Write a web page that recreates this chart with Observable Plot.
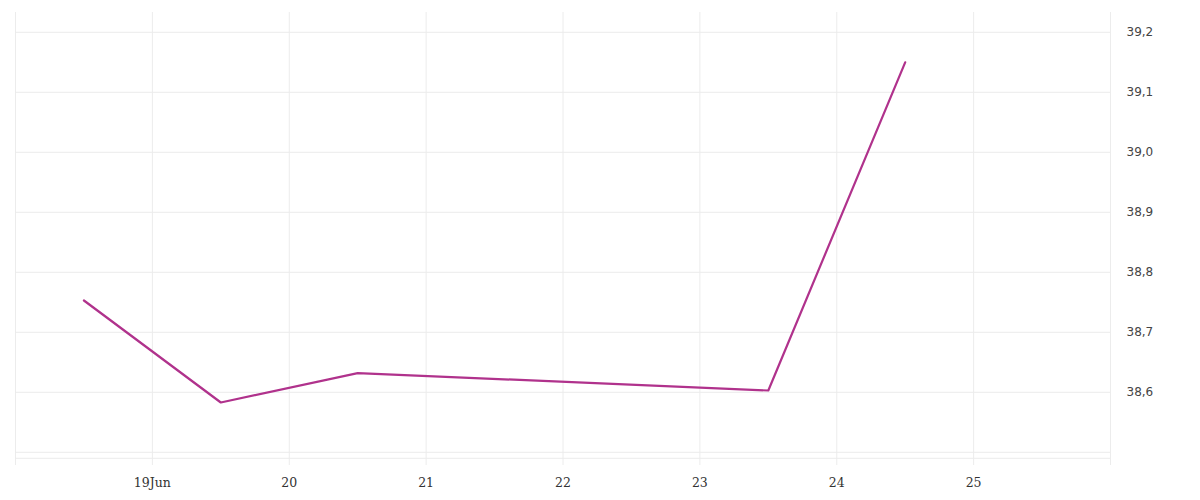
<!DOCTYPE html>
<html>
<head>
<meta charset="utf-8">
<script src="https://cdn.jsdelivr.net/npm/d3@7"></script>
<script src="https://cdn.jsdelivr.net/npm/@observablehq/plot@0.6"></script>
<style>
  html, body { margin: 0; padding: 0; background: #fff; }
</style>
</head>
<body>
<div id="chart"></div>
<script>
const dates = ["2023-06-18T12:00Z", "2023-06-19T12:00Z", "2023-06-20T12:00Z", "2023-06-23T12:00Z", "2023-06-24T12:00Z"];
const values = [38.753, 38.583, 38.632, 38.603, 39.15];
const xTicks = ["2023-06-18", "2023-06-19", "2023-06-20", "2023-06-21", "2023-06-22", "2023-06-23", "2023-06-24", "2023-06-25", "2023-06-26"];
const xTickLabels = ["", "19Jun", "20", "21", "22", "23", "24", "25", ""];
const yTicks = [38.5, 38.6, 38.7, 38.8, 38.9, 39.0, 39.1, 39.2];
const yLabelTicks = [38.6, 38.7, 38.8, 38.9, 39.0, 39.1, 39.2];
const baseline = [38.49];

const data = dates.map((d, i) => ({date: new Date(d), value: values[i]}));
const xTickDates = xTicks.map(d => new Date(d + "T00:00Z"));
const labelMap = new Map(xTickDates.map((d, i) => [+d, xTickLabels[i]]));

const chart = Plot.plot({
  width: 1200,
  height: 500,
  marginLeft: 15,
  marginRight: 90,
  marginTop: 12,
  marginBottom: 35,
  style: {background: "#fff"},
  x: {type: "utc", domain: [xTickDates[0], xTickDates[xTickDates.length - 1]]},
  y: {domain: [38.478, 39.233]},
  marks: [
    Plot.ruleX(xTickDates, {stroke: "#ececec", strokeWidth: 1}),
    Plot.ruleY(yTicks, {stroke: "#ececec", strokeWidth: 1}),
    Plot.ruleY(baseline, {stroke: "#ececec", strokeWidth: 1}),
    Plot.axisX({
      ticks: xTickDates,
      tickSize: 0,
      tickPadding: 13,
      tickFormat: d => labelMap.get(+d),
      fontSize: 12.5,
      fontFamily: "DejaVu Serif",
      color: "#333",
      label: null
    }),
    Plot.axisY({
      anchor: "right",
      ticks: yLabelTicks,
      tickSize: 0,
      tickPadding: 16,
      tickFormat: d => d.toFixed(1).replace(".", ","),
      fontSize: 12,
      fontFamily: "DejaVu Sans",
      color: "#444",
      label: null
    }),
    Plot.line(data, {x: "date", y: "value", stroke: "#b0328c", strokeWidth: 2.2})
  ]
});
document.getElementById("chart").appendChild(chart);
</script>
</body>
</html>
